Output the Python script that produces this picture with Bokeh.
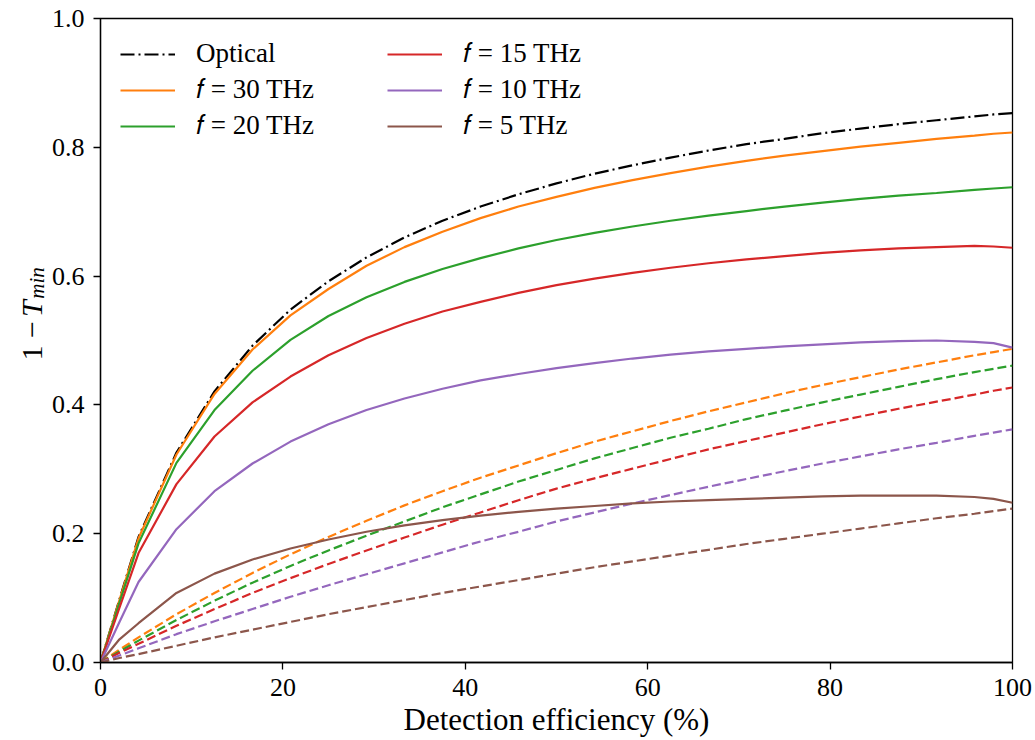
import numpy as np
from bokeh.plotting import figure
from bokeh.layouts import row
from bokeh.models import (Range1d, Legend, LegendItem, Label, FixedTicker,
                          NumeralTickFormatter)
from bokeh.embed import file_html
from bokeh.resources import INLINE

# Detection efficiency (%)
eff = [0, 2.08, 4.17, 8.33, 12.5, 16.67, 20.83, 25, 29.17, 33.33, 37.5, 41.67,
       45.83, 50, 54.17, 58.33, 62.5, 66.67, 70.83, 75, 79.17, 83.33, 87.5,
       91.67, 95.83, 97.92, 100]

optical = [0, 0.098, 0.195, 0.326, 0.421, 0.492, 0.548, 0.592, 0.629, 0.660,
           0.686, 0.708, 0.727, 0.744, 0.759, 0.772, 0.784, 0.795, 0.805,
           0.813, 0.822, 0.829, 0.836, 0.842, 0.848, 0.851, 0.853]

solid_30 = [0, 0.097, 0.193, 0.323, 0.417, 0.486, 0.539, 0.580, 0.616, 0.645,
            0.669, 0.690, 0.708, 0.723, 0.737, 0.749, 0.760, 0.770, 0.779,
            0.787, 0.794, 0.801, 0.807, 0.813, 0.818, 0.821, 0.823]
solid_20 = [0, 0.093, 0.185, 0.310, 0.392, 0.453, 0.501, 0.538, 0.567, 0.591,
            0.611, 0.628, 0.643, 0.656, 0.667, 0.677, 0.686, 0.694, 0.701,
            0.708, 0.714, 0.720, 0.725, 0.729, 0.734, 0.736, 0.738]
solid_15 = [0, 0.085, 0.170, 0.277, 0.351, 0.404, 0.444, 0.477, 0.504, 0.526,
            0.545, 0.560, 0.574, 0.586, 0.596, 0.605, 0.613, 0.620, 0.626,
            0.631, 0.636, 0.640, 0.643, 0.645, 0.647, 0.646, 0.644]
solid_10 = [0, 0.063, 0.125, 0.207, 0.266, 0.309, 0.343, 0.370, 0.392, 0.410,
            0.425, 0.438, 0.448, 0.457, 0.465, 0.472, 0.478, 0.483, 0.487,
            0.491, 0.494, 0.497, 0.499, 0.500, 0.498, 0.496, 0.489]
solid_5 = [0, 0.036, 0.061, 0.108, 0.138, 0.160, 0.177, 0.191, 0.203, 0.213,
           0.221, 0.228, 0.234, 0.239, 0.243, 0.247, 0.250, 0.252, 0.254,
           0.256, 0.258, 0.259, 0.259, 0.259, 0.257, 0.254, 0.248]

dash_30 = [0, 0.020, 0.039, 0.075, 0.108, 0.139, 0.168, 0.195, 0.220, 0.244,
           0.266, 0.287, 0.306, 0.325, 0.343, 0.359, 0.375, 0.390, 0.404,
           0.418, 0.431, 0.443, 0.455, 0.466, 0.477, 0.482, 0.487]
dash_20 = [0, 0.017, 0.034, 0.066, 0.096, 0.124, 0.150, 0.174, 0.197, 0.219,
           0.241, 0.261, 0.281, 0.299, 0.317, 0.333, 0.349, 0.363, 0.378,
           0.391, 0.404, 0.416, 0.428, 0.440, 0.451, 0.456, 0.461]
dash_15 = [0, 0.015, 0.029, 0.057, 0.083, 0.108, 0.131, 0.153, 0.174, 0.194,
           0.214, 0.233, 0.252, 0.270, 0.286, 0.301, 0.316, 0.331, 0.344,
           0.357, 0.370, 0.382, 0.394, 0.405, 0.416, 0.422, 0.427]
dash_10 = [0, 0.011, 0.022, 0.044, 0.064, 0.083, 0.102, 0.120, 0.137, 0.154,
           0.171, 0.188, 0.203, 0.219, 0.233, 0.247, 0.260, 0.273, 0.285,
           0.297, 0.309, 0.320, 0.331, 0.341, 0.352, 0.357, 0.362]
dash_5 = [0, 0.007, 0.013, 0.026, 0.039, 0.051, 0.063, 0.075, 0.086, 0.097,
          0.108, 0.118, 0.128, 0.138, 0.148, 0.157, 0.166, 0.175, 0.184,
          0.192, 0.200, 0.208, 0.216, 0.224, 0.231, 0.235, 0.239]

x_ticks = [0, 20, 40, 60, 80, 100]
y_ticks = [0.0, 0.2, 0.4, 0.6, 0.8, 1.0]

labels = ["Optical", "𝑓 = 30 THz", "𝑓 = 20 THz", "𝑓 = 15 THz",
          "𝑓 = 10 THz", "𝑓 = 5 THz"]
colors = ["#000000", "#ff7f0e", "#2ca02c", "#d62728", "#9467bd", "#8c564b"]
solids = [optical, solid_30, solid_20, solid_15, solid_10, solid_5]
dashes = [None, dash_30, dash_20, dash_15, dash_10, dash_5]

FONT = "Liberation Serif"
SIDE_W = 48
TOTAL_H = 740

p = figure(frame_width=912, frame_height=644,
           min_border_left=100 - SIDE_W, min_border_right=23,
           min_border_top=18, min_border_bottom=78,
           x_range=Range1d(0, 100), y_range=Range1d(0, 1),
           output_backend="svg", toolbar_location=None,
           background_fill_color="white", border_fill_color="white")

p.xgrid.visible = False
p.ygrid.visible = False
p.outline_line_color = "black"
p.outline_line_width = 1.3
p.outline_line_alpha = 1.0

p.xaxis.ticker = FixedTicker(ticks=x_ticks)
p.yaxis.ticker = FixedTicker(ticks=y_ticks)
p.xaxis.formatter = NumeralTickFormatter(format="0")
p.yaxis.formatter = NumeralTickFormatter(format="0.0")
for ax in (p.xaxis, p.yaxis):
    ax.axis_line_color = "black"
    ax.axis_line_width = 1.3
    ax.major_tick_line_color = "black"
    ax.major_tick_line_width = 1.3
    ax.major_tick_out = 7
    ax.major_tick_in = 0
    ax.minor_tick_out = 0
    ax.minor_tick_in = 0
    ax.major_label_text_font = FONT
    ax.major_label_text_font_size = "26px"
    ax.major_label_text_color = "black"
    ax.major_label_standoff = 9

p.xaxis.axis_label = "Detection efficiency (%)"
p.xaxis.axis_label_text_font = FONT
p.xaxis.axis_label_text_font_size = "31px"
p.xaxis.axis_label_text_font_style = "normal"
p.xaxis.axis_label_text_color = "black"
p.xaxis.axis_label_standoff = 3

items = []
for lab, col, s, d in zip(labels, colors, solids, dashes):
    if col == "#000000":
        r = p.line(eff, s, line_color=col, line_width=2.2,
                   line_dash="14 4 2 4")
    else:
        r = p.line(eff, s, line_color=col, line_width=2.2)
        p.line(eff, d, line_color=col, line_width=2.2, line_dash="9 4")
    items.append(LegendItem(label=lab, renderers=[r]))

legend = Legend(items=items, location="top_left", orientation="vertical",
                nrows=3, margin=0, padding=20, spacing=5,
                glyph_width=55, glyph_height=24, label_height=24,
                label_width=186, label_standoff=21,
                label_text_font=FONT, label_text_font_size="27px",
                label_text_color="black",
                border_line_alpha=0, background_fill_alpha=0)
p.add_layout(legend)

# narrow side strip holding the y axis title "1 − T_min"
q = figure(width=SIDE_W, height=TOTAL_H,
           x_range=Range1d(0, SIDE_W), y_range=Range1d(0, TOTAL_H),
           min_border=0, x_axis_type=None, y_axis_type=None,
           output_backend="svg", toolbar_location=None,
           background_fill_color="white", border_fill_color="white",
           outline_line_color=None)
q.xgrid.visible = False
q.ygrid.visible = False
lx = 31
for txt, ly, size, style, off in [("1 −", 393, "30px", "normal", 0),
                                  ("T", 343, "30px", "italic", 0),
                                  ("min", 322, "21px", "italic", 5)]:
    q.add_layout(Label(x=lx + off, y=TOTAL_H - ly, text=txt,
                       angle=np.pi / 2,
                       text_font=FONT, text_font_size=size,
                       text_font_style=style,
                       text_align="left", text_baseline="alphabetic",
                       text_color="black"))

layout = row(q, p, spacing=0)
open("out.html", "w").write(file_html(layout, INLINE))
